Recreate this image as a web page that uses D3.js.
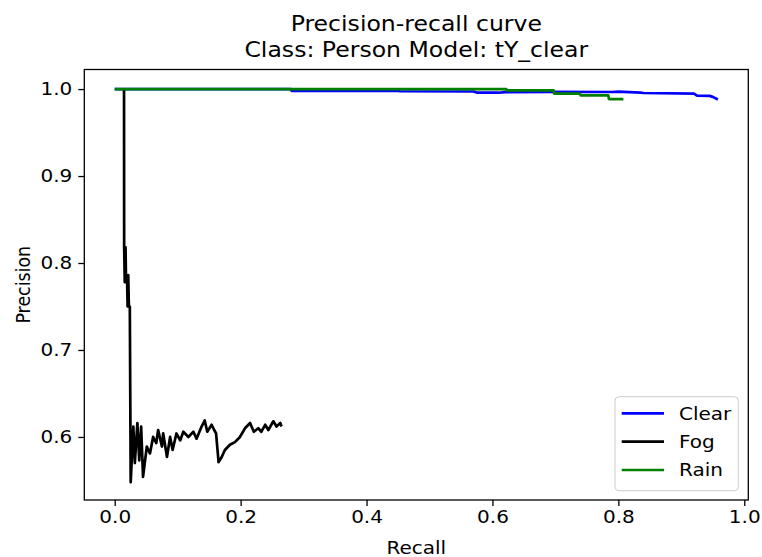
<!DOCTYPE html>
<html><head><meta charset="utf-8">
<script src="https://cdn.jsdelivr.net/npm/d3@7"></script>
<style>body{margin:0;background:#fff}svg{display:block}text{font-family:"DejaVu Sans",sans-serif;fill:#000}</style>
</head><body><svg id="c" width="762" height="557"></svg>
<script>
const titleLines = ["Precision-recall curve", "Class: Person Model: tY_clear"];
const xLabel = "Recall", yLabel = "Precision";
const xTicks = [0.0, 0.2, 0.4, 0.6, 0.8, 1.0];
const yTicks = [0.6, 0.7, 0.8, 0.9, 1.0];
const seriesNames = ["Clear", "Fog", "Rain"];
const seriesColors = ["#0000ff", "#000000", "#008000"];

const clearRecall = [0, 0.28, 0.281, 0.45, 0.453, 0.57, 0.575, 0.61, 0.62, 0.70, 0.79, 0.80, 0.835, 0.84, 0.92, 0.925, 0.945, 0.95, 0.958];
const clearPrec   = [1, 1.0, 0.998, 0.998, 0.9975, 0.9972, 0.996, 0.9958, 0.9965, 0.9968, 0.9966, 0.997, 0.996, 0.9955, 0.9948, 0.9925, 0.9922, 0.991, 0.988];

const fogRecall = [0.0148, 0.0150, 0.0160, 0.0172, 0.0180, 0.0195, 0.0205, 0.0215, 0.0225, 0.0240, 0.0254,
  0.0296, 0.032, 0.036, 0.039, 0.042, 0.045, 0.051, 0.056, 0.061, 0.066, 0.069, 0.075, 0.077, 0.083, 0.088, 0.092, 0.098,
  0.104, 0.109, 0.117, 0.125, 0.130, 0.138, 0.143, 0.147, 0.154, 0.158, 0.161, 0.165, 0.170, 0.175, 0.183, 0.191, 0.199,
  0.207, 0.215, 0.221, 0.228, 0.233, 0.239, 0.244, 0.252, 0.257, 0.263, 0.265];
const fogPrec = [1.0, 0.818, 0.778, 0.818, 0.778, 0.786, 0.750, 0.786, 0.750, 0.750, 0.548,
  0.612, 0.570, 0.616, 0.573, 0.612, 0.554, 0.589, 0.581, 0.600, 0.593, 0.608, 0.589, 0.604, 0.577, 0.600, 0.585, 0.604,
  0.596, 0.606, 0.600, 0.606, 0.598, 0.612, 0.619, 0.606, 0.614, 0.608, 0.604, 0.571, 0.577, 0.585, 0.591, 0.594, 0.600,
  0.610, 0.616, 0.606, 0.610, 0.606, 0.614, 0.608, 0.618, 0.612, 0.616, 0.612];

const rainRecall = [0, 0.622, 0.623, 0.697, 0.698, 0.739, 0.740, 0.784, 0.785, 0.808];
const rainPrec   = [1, 1.0, 0.9985, 0.9985, 0.9948, 0.9948, 0.9928, 0.9928, 0.9885, 0.9885];

const SX = 1.15; // horizontal glyph stretch seen in the reference
const FS = 17.4;

const svg = d3.select("#c");
const L = 84.3, R = 748.3, T = 69.5, B = 500;
const x = d3.scaleLinear().domain([-0.0483, 1.0064]).range([L, R]);
const y = d3.scaleLinear().domain([0.5275, 1.0225]).range([B, T]);

const series = [
  {name: seriesNames[0], color: seriesColors[0], r: clearRecall, p: clearPrec},
  {name: seriesNames[1], color: seriesColors[1], r: fogRecall, p: fogPrec},
  {name: seriesNames[2], color: seriesColors[2], r: rainRecall, p: rainPrec}
];

const line = d3.line().x(d => x(d[0])).y(d => y(d[1]));
svg.append("defs").append("clipPath").attr("id","clip").append("rect")
  .attr("x", L).attr("y", T).attr("width", R - L).attr("height", B - T);
const g = svg.append("g").attr("clip-path","url(#clip)");
series.forEach(s => {
  g.append("path").datum(s.r.map((v, i) => [v, s.p[i]]))
    .attr("d", line).attr("fill","none").attr("stroke", s.color)
    .attr("stroke-width", 2.7).attr("stroke-linejoin","round");
});

// axes
const xa = svg.append("g").attr("transform", `translate(0,${B})`)
  .call(d3.axisBottom(x).tickValues(xTicks).tickFormat(d3.format(".1f")).tickSize(6).tickPadding(5));
const ya = svg.append("g").attr("transform", `translate(${L},0)`)
  .call(d3.axisLeft(y).tickValues(yTicks).tickFormat(d3.format(".1f")).tickSize(6).tickPadding(5));
[xa, ya].forEach(a => {
  a.select(".domain").remove();
  a.selectAll(".tick line").attr("stroke","#000").attr("stroke-width",1.3);
  a.selectAll(".tick text").attr("font-size", FS).attr("font-family","DejaVu Sans");
});
xa.selectAll(".tick text").attr("transform", `scale(${SX},1)`).attr("y", 11).attr("dy","0.71em");
ya.selectAll(".tick text").attr("x", -12 / SX).attr("transform", `scale(${SX},1)`);

svg.append("rect").attr("x", L).attr("y", T).attr("width", R - L).attr("height", B - T)
  .attr("fill","none").attr("stroke","#000").attr("stroke-width",1.3);

function txt(xp, yp, s, anchor, rot) {
  const t = svg.append("text").attr("font-size", FS).attr("text-anchor", anchor || "middle").text(s);
  if (rot) t.attr("transform", `translate(${xp},${yp}) rotate(-90) scale(1,${SX})`);
  else t.attr("transform", `translate(${xp},${yp}) scale(${SX},1)`);
  return t;
}
const cx = (L + R) / 2;
txt(cx, 31, titleLines[0]).attr("font-size", 20.5);
txt(cx, 57, titleLines[1]).attr("font-size", 20.5);
txt(cx, 554, xLabel);
txt(30, (T + B) / 2, yLabel, "middle", true);

// legend
const lg = svg.append("g");
lg.append("rect").attr("x", 615).attr("y", 396.7).attr("width", 123.3).attr("height", 94)
  .attr("rx", 4).attr("fill","#fff").attr("fill-opacity",0.8).attr("stroke","#cccccc").attr("stroke-width",1);
const rows = [413.3, 441.7, 470];
series.forEach((s, i) => {
  lg.append("line").attr("x1", 621.7).attr("x2", 664).attr("y1", rows[i]).attr("y2", rows[i])
    .attr("stroke", s.color).attr("stroke-width", 2.7);
  txt(679, rows[i] + 6.3, s.name, "start");
});
</script></body></html>
